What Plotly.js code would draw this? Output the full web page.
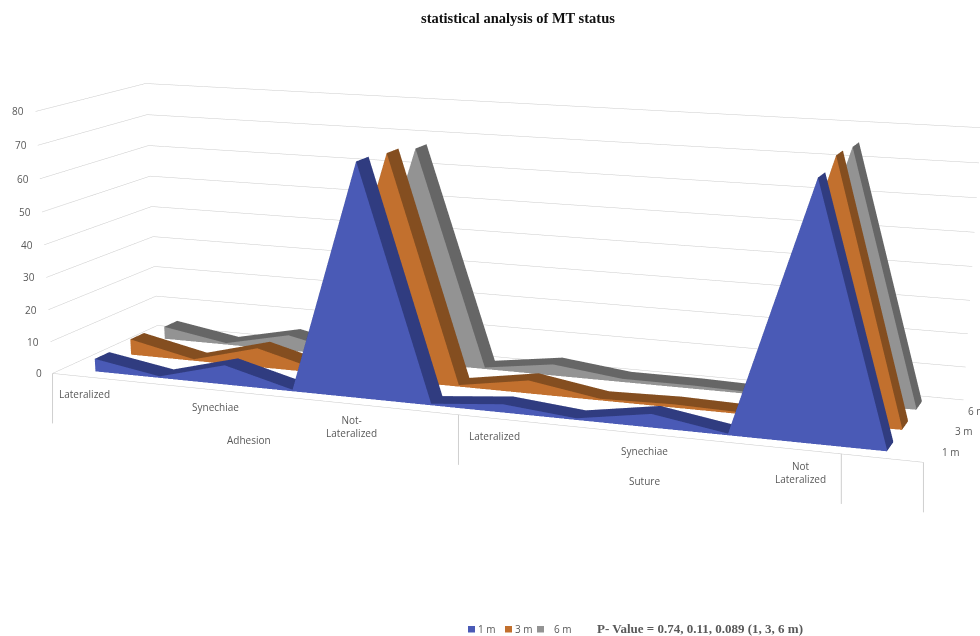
<!DOCTYPE html>
<html>
<head>
<meta charset="utf-8">
<script src="https://cdn.plot.ly/plotly-3.0.1.min.js"></script>
<style>
  html, body { margin: 0; padding: 0; width: 980px; height: 636px; overflow: hidden; background: #fff; }
  #chart { position: absolute; left: -382px; top: -429px; width: 1800px; height: 1842px; }
</style>
</head>
<body>
<div id="chart"></div>
<script>
// Twelve slots along the floor; every second one carries a label.
const categories = ['Lateralized', '', 'Synechiae', '', 'Not-<br>Lateralized', '',
                    'Lateralized', '', 'Synechiae', '', 'Not<br>Lateralized', ''];
const groups = ['Adhesion', 'Suture'];
const groupCentres = [3, 8.5];
const groupTicks = [0, 6, 11, 12];
const seriesNames = ['1 m', '3 m', '6 m'];
const values1m = [4, 0.5, 6, 0.5, 70, 0.5, 2.5, 0.5, 4, 0.5, 73.5, 0.5];
const values3m = [5, 0.5, 6, 0.5, 69, 0.5, 4, 0.5, 1, 0.5, 76, 0.5];
const values6m = [4, 0.5, 5, 0.5, 67, 0.5, 3.5, 1, 1, 0.5, 75, 0.5];
const valueTicks = [0, 10, 20, 30, 40, 50, 60, 70, 80];

const frontColours = ['#4a5ab6', '#c2702e', '#939393'];
const topColours = ['#303c80', '#844e20', '#666666'];
const labelColour = '#595959';
const labelFont = { family: 'Open Sans, sans-serif', size: 10, color: labelColour };

// Each series is a ribbon: a front face down to the floor and a top strip going back.
function ribbon(values, s) {
  const y0 = s + 0.3, y1 = s + 0.7;
  const x = [], y = [], z = [], i = [], j = [], k = [], facecolor = [];
  const quad = (a, b, c, d, col) => {
    const n = x.length;
    [a, b, c, d].forEach(p => { x.push(p[0]); y.push(p[1]); z.push(p[2]); });
    i.push(n, n); j.push(n + 1, n + 2); k.push(n + 2, n + 3);
    facecolor.push(col, col);
  };
  values.forEach((v, c) => {
    if (c === values.length - 1) return;
    const xa = c + 0.5, xb = c + 1.5, w = values[c + 1];
    quad([xa, y0, 0], [xb, y0, 0], [xb, y0, w], [xa, y0, v], frontColours[s]);
    quad([xa, y0, v], [xb, y0, w], [xb, y1, w], [xa, y1, v], topColours[s]);
  });
  const xe = values.length - 0.5, ve = values[values.length - 1];
  quad([xe, y0, 0], [xe, y1, 0], [xe, y1, ve], [xe, y0, ve], topColours[s]);
  return {
    type: 'mesh3d', name: seriesNames[s], x, y, z, i, j, k, facecolor,
    flatshading: true, hoverinfo: 'skip', showscale: false, showlegend: false,
    lighting: { ambient: 1, diffuse: 0, specular: 0, roughness: 1, fresnel: 0 }
  };
}

const traces = [values1m, values3m, values6m].map(ribbon);

// The graph div is larger than the window so the scene gets a long focal length.
const W = 1800, H = 1842, left = -382, top_ = -429;
const px = v => (v - left) / W;
const py = v => 1 - (v - top_) / H;

const sceneNotes = [];
valueTicks.forEach(v => sceneNotes.push({
  x: 0, y: 0, z: v, text: String(v), showarrow: false, xanchor: 'right', yanchor: 'middle',
  xshift: -9, yshift: 0, font: labelFont
}));
categories.forEach((c, n) => {
  if (!c) return;
  sceneNotes.push({
    x: n + 0.5, y: 0, z: 0, text: c, showarrow: false, xanchor: 'center', yanchor: 'middle',
    yshift: c.includes('<br>') ? -23 : -17, font: labelFont
  });
});
groups.forEach((g, n) => sceneNotes.push({
  x: groupCentres[n], y: 0, z: 0, text: g, showarrow: false, xanchor: 'center', yanchor: 'middle',
  yshift: -47, font: labelFont
}));
groupTicks.forEach(t => sceneNotes.push({
  x: t, y: 0, z: 0, text: ' ', showarrow: true, arrowhead: 0, arrowwidth: 1,
  arrowcolor: '#cfcfcf', ax: 0, ay: 60, standoff: 0, startstandoff: 0
}));
seriesNames.forEach((n, s) => sceneNotes.push({
  x: 12, y: s + 0.5, z: 0, text: n, showarrow: false, xanchor: 'left', yanchor: 'middle',
  xshift: 9, yshift: -1, font: labelFont
}));

const legendFont = { family: 'Open Sans, sans-serif', size: 10, color: labelColour };
const legendX = [472, 509, 541];
const legendTextX = [476, 513, 552];
const paperNotes = [
  { x: px(518), y: py(18), text: '<b>statistical analysis of MT status</b>',
    font: { family: 'Liberation Serif, serif', size: 14.5, color: '#111' } },
  { x: px(700), y: py(628), text: '<b>P- Value = 0.74, 0.11, 0.089 (1, 3, 6 m)</b>',
    font: { family: 'Liberation Serif, serif', size: 13, color: '#595959' } }
];
seriesNames.forEach((n, s) => {
  paperNotes.push({ x: px(legendTextX[s]), y: py(629), text: n, xanchor: 'left', font: legendFont });
});
const swatches = seriesNames.map((n, s) => ({
  type: 'rect', xref: 'paper', yref: 'paper', line: { width: 0 }, fillcolor: frontColours[s],
  x0: px(legendX[s] - 4), x1: px(legendX[s] + 3), y0: py(632.5), y1: py(626)
}));

const axisOff = {
  title: { text: '' }, showgrid: false, zeroline: false, showticklabels: false, showspikes: false,
  showbackground: false, showline: false, ticks: ''
};

const layout = {
  width: W, height: H, margin: { l: 0, r: 0, t: 0, b: 0 },
  paper_bgcolor: '#fff', showlegend: false, hovermode: false,
  annotations: paperNotes.map(a => Object.assign({ xref: 'paper', yref: 'paper', showarrow: false,
    xanchor: 'center', yanchor: 'middle' }, a)),
  shapes: swatches,
  scene: {
    domain: { x: [0, 1], y: [0, 1] },
    bgcolor: '#fff',
    aspectmode: 'manual',
    aspectratio: { x: 2.004, y: 0.4968, z: 0.5998 },
    camera: {
      projection: { type: 'perspective' },
      up: { x: -0.1064, y: 0.2892, z: 0.9514 },
      center: { x: 0.0961, y: -0.1366, z: -0.4977 },
      eye: { x: 1.6885, y: -4.5356, z: 1.0166 }
    },
    xaxis: Object.assign({}, axisOff, { range: [0, 12], showline: true, linecolor: '#c8c8c8', linewidth: 1 }),
    yaxis: Object.assign({}, axisOff, { range: [0, 3] }),
    zaxis: Object.assign({}, axisOff, { range: [0, 80], tickvals: valueTicks, showgrid: true,
      gridcolor: '#cacaca', gridwidth: 1 }),
    annotations: sceneNotes
  }
};

Plotly.newPlot('chart', traces, layout, { displayModeBar: false, scrollZoom: false });
</script>
</body>
</html>
